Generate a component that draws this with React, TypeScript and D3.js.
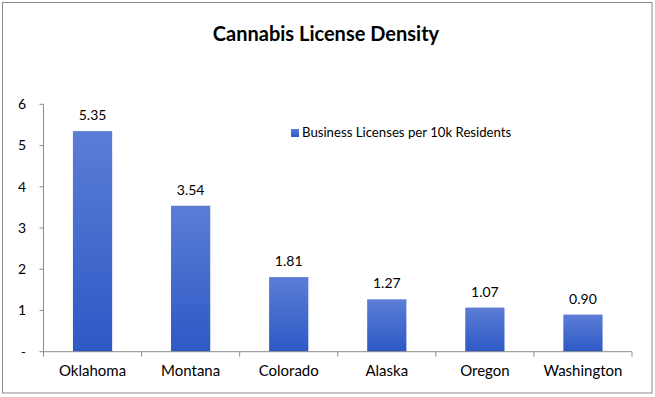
import React from "react";
import * as d3 from "d3";

const categories = ["Oklahoma", "Montana", "Colorado", "Alaska", "Oregon", "Washington"];
const values = [5.35, 3.54, 1.81, 1.27, 1.07, 0.9];
const yTicks = [0, 1, 2, 3, 4, 5, 6];
const seriesName = "Business Licenses per 10k Residents";
const title = "Cannabis License Density";

const W = 655;
const H = 397;
const font = "Lato, 'Open Sans', sans-serif";

export default function App() {
  const left = 43.5;
  const right = 632;
  const top = 104.3;
  const bottom = 351.7;

  const x = d3.scaleBand<string>().domain(categories).range([left, right]).paddingInner(0.6).paddingOuter(0.3);
  const xb = d3.scaleBand<string>().domain(categories).range([left, right]);
  const y = d3.scaleLinear().domain([0, 6]).range([bottom, top]);

  return (
    <div style={{ position: "fixed", left: 0, top: 0, width: W, height: H, background: "#fff" }}>
      <svg width={W} height={H} style={{ display: "block" }}>
        <defs>
          <linearGradient id="barGrad" x1="0" y1="0" x2="0" y2="1">
            <stop offset="0%" stopColor="#5c7dd6" />
            <stop offset="100%" stopColor="#2d59c5" />
          </linearGradient>
        </defs>
        <rect x={2.5} y={2.5} width={649.5} height={390.5} fill="#fff" stroke="#8c8c8c" strokeWidth={1} />
        <text x={326} y={41} textAnchor="middle" fontFamily={font} fontWeight="bold" fontSize={20} fill="#000">
          {title}
        </text>

        {/* y axis */}
        <line x1={left} x2={left} y1={top} y2={bottom} stroke="#8c8c8c" />
        {yTicks.map((t) => (
          <g key={t}>
            <line x1={left - 4} x2={left} y1={y(t)} y2={y(t)} stroke="#8c8c8c" />
            <text x={26} y={y(t)} dy="0.35em" textAnchor="end" fontFamily={font} fontSize={14} fill="#000">
              {t === 0 ? "-" : d3.format("d")(t)}
            </text>
          </g>
        ))}

        {/* bars */}
        {categories.map((c, i) => (
          <rect
            key={c}
            x={x(c)!}
            y={y(values[i])}
            width={x.bandwidth()}
            height={y(0) - y(values[i])}
            fill="url(#barGrad)"
          />
        ))}

        {/* x axis */}
        <line x1={left} x2={right} y1={bottom} y2={bottom} stroke="#8c8c8c" />
        {[...categories.map((c) => xb(c)!), right].map((px, i) => (
          <line key={i} x1={px} x2={px} y1={bottom} y2={bottom + 5} stroke="#8c8c8c" />
        ))}
        {categories.map((c) => (
          <text
            key={c}
            x={xb(c)! + xb.bandwidth() / 2}
            y={376}
            textAnchor="middle"
            fontFamily={font}
            fontSize={15}
            fill="#000"
          >
            {c}
          </text>
        ))}

        {/* data labels */}
        {categories.map((c, i) => (
          <text
            key={c}
            x={x(c)! + x.bandwidth() / 2}
            y={y(values[i]) - 11}
            textAnchor="middle"
            fontFamily={font}
            fontSize={14}
            fill="#000"
          >
            {d3.format(".2f")(values[i])}
          </text>
        ))}

        {/* legend */}
        <rect x={291} y={129} width={8} height={8} fill="url(#barGrad)" />
        <text x={302} y={137} fontFamily={font} fontSize={13.2} fill="#000">
          {seriesName}
        </text>
      </svg>
    </div>
  );
}
